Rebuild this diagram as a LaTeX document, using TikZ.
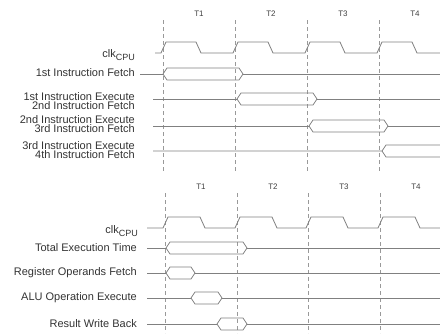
\documentclass[tikz,border=0pt]{standalone}
\usepackage{fontspec}
\setmainfont{Liberation Sans}
\usetikzlibrary{positioning}

% one bus slot: start x, end x, centre y
\newcommand{\busshape}[3]{%
  \draw[wave] (#1,#3) -- (#1+4,#3-6) -- (#2-4,#3-6) -- (#2,#3) -- (#2-4,#3+6) -- (#1+4,#3+6) -- cycle;}

\begin{document}
\begin{tikzpicture}[x=1pt,y=-1pt,
  lbl/.style={anchor=east,align=right,inner sep=0pt,text=black!80,font=\fontsize{11}{9.8}\selectfont},
  tlbl/.style={inner sep=0pt,text=black!75,font=\fontsize{8}{8}\selectfont},
  wave/.style={draw=black!50,line width=0.8pt},
  grid/.style={draw=black!40,line width=0.7pt,dash pattern=on 4pt off 3pt}]
  \useasboundingbox (0,0) rectangle (440,333);
  % upper diagram: pipelined fetch / execute
  \foreach \e/\t in {163/T1,235/T2,307/T3,379/T4}{
    \draw[grid] (\e,20) -- (\e,172);
    \node[tlbl] (up\t) at (\e+36,14) {\t};
  }
  \node[lbl] (clkA) at (135,55) {clk\raisebox{-0.5ex}{\fontsize{9}{9}\selectfont CPU}};
  \draw[wave] (155,53) \foreach \e in {163,235,307,379}{ -- (\e-2,53) -- (\e+3,42) -- (\e+33,42) -- (\e+38,53)} -- (440,53);
  \node[lbl] (fetchA) at (135,73) {1st Instruction Fetch};
  \draw[wave] (140,74) -- (163,74); \busshape{163}{243}{74}; \draw[wave] (243,74) -- (440,74);
  \node[lbl] (stepB) at (135,101) {1st Instruction Execute\\2nd Instruction Fetch};
  \draw[wave] (153,99) -- (237,99); \busshape{237}{317}{99}; \draw[wave] (317,99) -- (440,99);
  \node[lbl] (stepC) at (135,124) {2nd Instruction Execute\\3rd Instruction Fetch};
  \draw[wave] (153,126) -- (309,126); \busshape{309}{388}{126}; \draw[wave] (388,126) -- (440,126);
  \node[lbl] (stepD) at (135,150) {3rd Instruction Execute\\4th Instruction Fetch};
  \draw[wave] (153,151) -- (382,151) -- (386,145) -- (440,145);
  \draw[wave] (382,151) -- (386,157) -- (440,157);
  % lower diagram: one instruction in detail
  \foreach \e/\t in {165/T1,237/T2,308/T3,380/T4}{
    \draw[grid] (\e,193) -- (\e,333);
    \node[tlbl] (lo\t) at (\e+36,187) {\t};
  }
  \node[lbl] (clkB) at (138,231) {clk\raisebox{-0.5ex}{\fontsize{9}{9}\selectfont CPU}};
  \draw[wave] (147,228) \foreach \e in {165,237,308,380}{ -- (\e-2,228) -- (\e+3,217) -- (\e+35,217) -- (\e+40,228)} -- (440,228);
  \node[lbl] (total) at (137,248) {Total Execution Time};
  \draw[wave] (147,248) -- (166,248); \busshape{166}{247}{248}; \draw[wave] (247,248) -- (440,248);
  \node[lbl] (regf) at (137,273) {Register Operands Fetch};
  \draw[wave] (147,273) -- (166,273); \busshape{166}{195}{273}; \draw[wave] (195,273) -- (440,273);
  \node[lbl] (alu) at (137,298) {ALU Operation Execute};
  \draw[wave] (147,298) -- (191,298); \busshape{191}{222}{298}; \draw[wave] (222,298) -- (440,298);
  \node[lbl] (wb) at (137,324) {Result Write Back};
  \draw[wave] (147,324) -- (217,324); \busshape{217}{247}{324}; \draw[wave] (247,324) -- (440,324);
\end{tikzpicture}
\end{document}
